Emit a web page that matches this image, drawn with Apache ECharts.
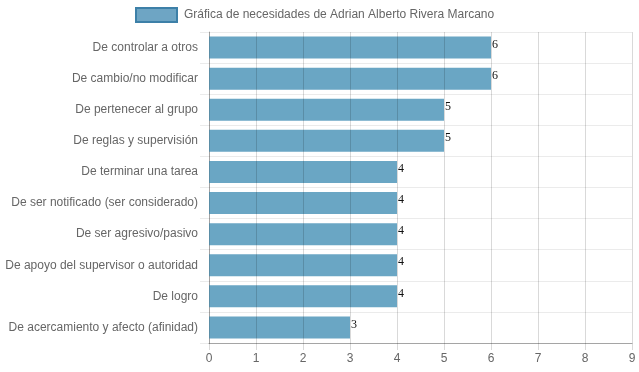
<!DOCTYPE html>
<html><head><meta charset="utf-8">
<script src="https://cdn.jsdelivr.net/npm/echarts@6/dist/echarts.min.js"></script>
<style>html,body{margin:0;padding:0;background:#fff}#c{width:639px;height:372px}</style>
</head><body><div id="c"></div>
<script>
const categories = ["De controlar a otros","De cambio/no modificar","De pertenecer al grupo","De reglas y supervisión","De terminar una tarea","De ser notificado (ser considerado)","De ser agresivo/pasivo","De apoyo del supervisor o autoridad","De logro","De acercamiento y afecto (afinidad)"];
const values = [6,6,5,5,4,4,4,4,4,3];
const seriesName = "Gráfica de necesidades de Adrian Alberto Rivera Marcano";
const xTicks = [0,1,2,3,4,5,6,7,8,9];

const chart = echarts.init(document.getElementById('c'), null, {renderer:'canvas'});
chart.setOption({
  animation:false,
  textStyle:{fontFamily:'"Liberation Sans", Arial, sans-serif'},
  legend:{
    top:2, left:130, itemWidth:41, itemHeight:14, itemGap:8,
    textStyle:{color:'#666', fontSize:12, padding:[0,0,0,2], fontFamily:'"Liberation Sans", Arial, sans-serif'},
    data:[{name:seriesName, icon:'rect', itemStyle:{color:'#6ea5c4', borderColor:'#3d80a8', borderWidth:2}}]
  },
  grid:{left:209, right:7, top:32, bottom:29, containLabel:false},
  xAxis:{
    type:'value', min:xTicks[0], max:xTicks[xTicks.length-1], interval:1, z:3,
    axisLine:{show:true, lineStyle:{color:'rgba(0,0,0,0.3)'}},
    axisTick:{show:true, length:7, lineStyle:{color:'rgba(0,0,0,0.15)'}},
    splitLine:{show:true, lineStyle:{color:'rgba(0,0,0,0.15)', width:1}},
    axisLabel:{color:'#666', fontSize:12, margin:10}
  },
  yAxis:{
    type:'category', data:categories, inverse:true,
    axisLine:{show:true, lineStyle:{color:'rgba(0,0,0,0.25)'}},
    axisTick:{show:true, length:9, lineStyle:{color:'rgba(0,0,0,0.08)'}},
    splitLine:{show:true, lineStyle:{color:'rgba(0,0,0,0.08)'}},
    axisLabel:{color:'#666', fontSize:12, margin:11}
  },
  series:[{
    name:seriesName, type:'bar', data:values, barWidth:22, z:1,
    itemStyle:{color:'#6aa6c4'},
    label:{show:true, position:'right', distance:1, offset:[0,-3], color:'#111', fontSize:12, fontFamily:'"Liberation Serif", serif'}
  }]
});
</script></body></html>
